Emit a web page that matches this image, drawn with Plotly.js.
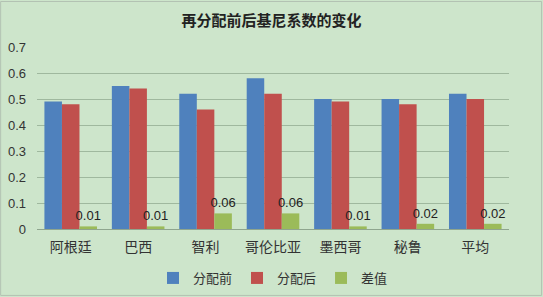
<!DOCTYPE html>
<html><head><meta charset="utf-8">
<script src="https://cdn.plot.ly/plotly-3.0.1.min.js"></script>
<style>html,body{margin:0;padding:0;background:#cde5cb}#c{width:543px;height:297px}</style>
</head><body><div id="c"></div>
<script>
const categories = ['阿根廷','巴西','智利','哥伦比亚','墨西哥','秘鲁','平均'];
const before = [0.49,0.55,0.52,0.58,0.50,0.50,0.52];
const after = [0.48,0.54,0.46,0.52,0.49,0.48,0.50];
const diff = [0.01,0.01,0.06,0.06,0.01,0.02,0.02];
const diffLabels = ['0.01','0.01','0.06','0.06','0.01','0.02','0.02'];
const yTicks = [0,0.1,0.2,0.3,0.4,0.5,0.6,0.7];
const yTickText = ['0','0.1','0.2','0.3','0.4','0.5','0.6','0.7'];

const font = 'Noto Sans CJK SC, sans-serif';
const data = [
  {type:'bar', name:'分配前', x:categories, y:before, marker:{color:'#4f81bd'}, hoverinfo:'none'},
  {type:'bar', name:'分配后', x:categories, y:after, marker:{color:'#c0504d'}, hoverinfo:'none'},
  {type:'bar', name:'差值', x:categories, y:diff, marker:{color:'#9bbb59'}, hoverinfo:'none',
   text:diffLabels, textposition:'outside', cliponaxis:false, constraintext:'none',
   textfont:{family:'Liberation Sans, Arial, sans-serif', size:13, color:'#222'}}
];
const layout = {
  width:543, height:297,
  margin:{l:37, r:34, t:47, b:68, autoexpand:false},
  paper_bgcolor:'#cde5cb', plot_bgcolor:'rgba(0,0,0,0)',
  barmode:'group', bargap:0.22, bargroupgap:0,
  showlegend:true,
  title:{text:'<b>再分配前后基尼系数的变化</b>', x:0.5, xanchor:'center', y:0.93, yanchor:'middle',
    font:{family:'Noto Sans CJK SC, sans-serif', size:15, color:'#222'}},
  legend:{orientation:'h', x:0.5, xanchor:'center', xref:'paper', yref:'container', y:0.064, yanchor:'middle',
    font:{family:font, size:13, color:'#333'}, itemwidth:30, traceorder:'normal', bgcolor:'rgba(0,0,0,0)'},
  xaxis:{type:'category', tickfont:{family:font, size:14, color:'#333'}, showline:false, ticks:'',
    showgrid:false, zeroline:false, ticklabelstandoff:8},
  yaxis:{range:[0,0.7], tickvals:yTicks, ticktext:yTickText, tickfont:{family:'Liberation Sans, Arial, sans-serif', size:13, color:'#333'},
    showgrid:true, gridcolor:'#9fb89e', gridwidth:1, zeroline:true, zerolinecolor:'#8fa58e', zerolinewidth:1,
    showline:false, ticks:'', ticklabelstandoff:10},
  shapes:[{type:'rect', xref:'paper', yref:'paper', x0:-0.077, x1:1.069, y0:-0.365, y1:1.25, line:{color:'#b3c2b3', width:1}}]
};
Plotly.newPlot('c', data, layout, {staticPlot:true, displayModeBar:false});
</script></body></html>
